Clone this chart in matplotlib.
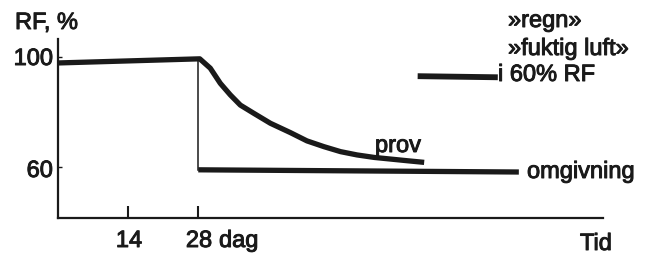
import matplotlib
matplotlib.use("Agg")
import matplotlib.pyplot as plt
import matplotlib.patheffects as pe

# data (days, RF %)
prov_days = [0, 28.3, 30.4, 32.4, 34.4, 36.4, 39.1, 42.4, 46.4, 49.7,
             53.1, 56.4, 59.7, 63.1, 66.4, 69.7, 73.1]
prov_rf = [97.8, 99.3, 95.9, 90.4, 86.2, 82.5, 79.5, 75.9, 72.5, 69.5,
           67.4, 65.6, 64.4, 63.5, 62.9, 62.3, 61.7]
omg_days = [28, 92]
omg_rf = [59.0, 58.2]
step_day = 28
key_days = [71.8, 87.8]
key_rf = [93.0, 92.6]
xtick_vals = [14, 28]
ytick_vals = [60, 100]

W, H = 655, 256
plt.rcParams['font.family'] = ['Liberation Sans', 'DejaVu Sans']
fs = 17

fig = plt.figure(figsize=(W / 100, H / 100), dpi=100)
ax = fig.add_axes([58 / W, 1 - 218 / H, (603 - 58) / W, (218 - 39) / H])


def px(x, y):
    return x / W, 1 - y / H


ink = '#1a1a1a'
ax.plot(prov_days, prov_rf, color=ink, lw=3.8, solid_capstyle='butt',
        solid_joinstyle='round')
ax.plot(omg_days, omg_rf, color=ink, lw=3.8, solid_capstyle='butt')
ax.plot([step_day, step_day], [omg_rf[0], prov_rf[1]], color=ink, lw=1.1)
ax.plot(key_days, key_rf, color=ink, lw=4.2, solid_capstyle='butt', clip_on=False)

ax.set_xlim(0, 108.8)
ax.set_ylim(41.5, 106.5)
for s in ['top', 'right']:
    ax.spines[s].set_visible(False)
for s in ['left', 'bottom']:
    ax.spines[s].set_linewidth(1.6)
    ax.spines[s].set_color(ink)

ax.set_xticks(xtick_vals)
ax.set_yticks(ytick_vals)
ax.tick_params(axis='x', direction='in', length=9, width=1.5, color=ink)
ax.tick_params(axis='y', direction='in', length=3, width=1.0, color=ink)
ax.set_xticklabels([])
ax.set_yticklabels([])

txt = dict(fontsize=fs, color=ink, va='baseline',
           path_effects=[pe.withStroke(linewidth=0.7, foreground=ink)])
fig.text(*px(15, 29), 'RF, %', ha='left', **txt)
fig.text(*px(53, 65), '100', ha='right', **txt)
fig.text(*px(53, 177), '60', ha='right', **txt)
fig.text(*px(129, 247), '14', ha='center', **txt)
fig.text(*px(199, 247), '28', ha='center', **txt)
fig.text(*px(219, 247), 'dag', ha='left', **txt)
fig.text(*px(596, 250), 'Tid', ha='center', **txt)
fig.text(*px(375, 152), 'prov', ha='left', **txt)
fig.text(*px(527, 178), 'omgivning', ha='left', **txt)
fig.text(*px(508, 27), '»regn»', ha='left', **txt)
fig.text(*px(508, 55), '»fuktig luft»', ha='left', **txt)
fig.text(*px(498, 81), 'i 60% RF', ha='left', **txt)

fig.savefig('out.png', dpi=100)
